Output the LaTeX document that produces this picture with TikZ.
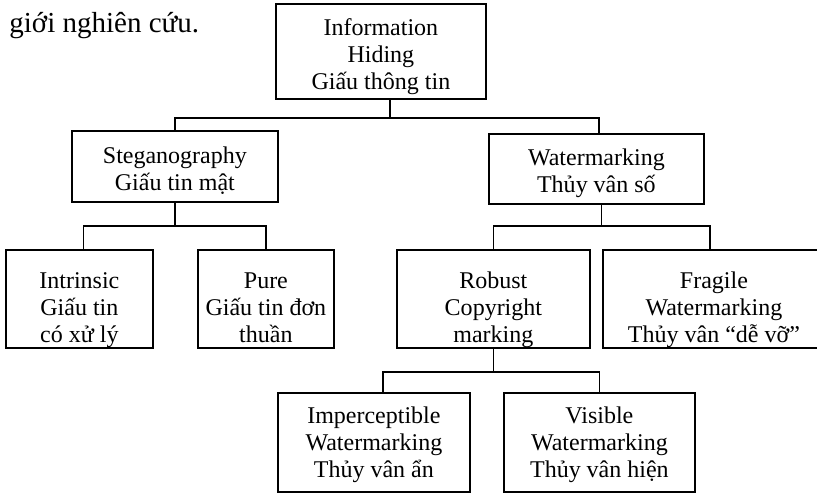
\documentclass[tikz,border=0pt]{standalone}
\usepackage{fontspec}
\setmainfont{Liberation Serif}
\usetikzlibrary{positioning}

\begin{document}
\begin{tikzpicture}[x=0.5pt,y=-0.5pt,
		box/.style={draw,rectangle,line width=0.9pt,inner sep=0pt,anchor=north west,
			align=flush center,font=\fontsize{12}{13.4}\selectfont},
		toprow/.style={text height=16pt,text depth=#1},
		midrow/.style={text height=19.5pt,text depth=29.5pt},
		lowrow/.style={text height=15.5pt,text depth=34pt},
		conn/.style={line width=0.9pt}]
		\useasboundingbox (0,0) rectangle (817,492);
		\clip (0,0) rectangle (817,492);
		\node (intro) [anchor=base west,inner sep=0pt,font=\fontsize{14.5}{17}\selectfont] at (9,33) {giới nghiên cứu.};
		% root and first level
		\node (info) [box,toprow=31.5pt,text width=105pt] at (275,3) {Information\\Hiding\\Giấu thông tin};
		\node (steg) [box,toprow=19pt,text height=16.5pt,text width=103pt] at (71,130) {Steganography\\Giấu tin mật};
		\node (water) [box,toprow=19pt,text width=107.5pt] at (488,133) {Watermarking\\Thủy vân số};
		% second level
		\node (intr) [box,midrow,text width=73.5pt] at (5,249) {Intrinsic\\Giấu tin\\có xử lý};
		\node (pure) [box,midrow,text width=68pt] at (197,249) {Pure\\Giấu tin đơn\\thuần};
		\node (robust) [box,midrow,text width=96.5pt] at (396,249) {Robust\\Copyright\\marking};
		\node (fragile) [box,midrow,text width=111pt] at (602,249) {Fragile\\Watermarking\\Thủy vân “dễ vỡ”};
		% third level
		\node (imper) [box,lowrow,text width=96pt] at (277,392) {Imperceptible\\Watermarking\\Thủy vân ẩn};
		\node (visible) [box,lowrow,text width=95.5pt] at (503,392) {Visible\\Watermarking\\Thủy vân hiện};
		% connectors
		\draw[conn] ([xshift=4.5pt]info.south) -- ++(0,18) coordinate (ibus) -| (steg.north);
		\draw[conn] (ibus) -| ([xshift=1.25pt]water.north);
		\draw[conn] (steg.south) -- ++(0,23) coordinate (sbus) -| ([xshift=2pt]intr.north);
		\draw[conn] (sbus) -| (pure.north);
		\draw[conn] ([xshift=2.5pt]water.south) -- ++(0,21) coordinate (wbus) -| (robust.north);
		\draw[conn] (wbus) -| ([xshift=-2pt]fragile.north);
		\draw[conn] (robust.south) -- ++(0,23) coordinate (rbus) -| ([xshift=4.5pt]imper.north);
		\draw[conn] (rbus) -| (visible.north);
	\end{tikzpicture}
\end{document}
